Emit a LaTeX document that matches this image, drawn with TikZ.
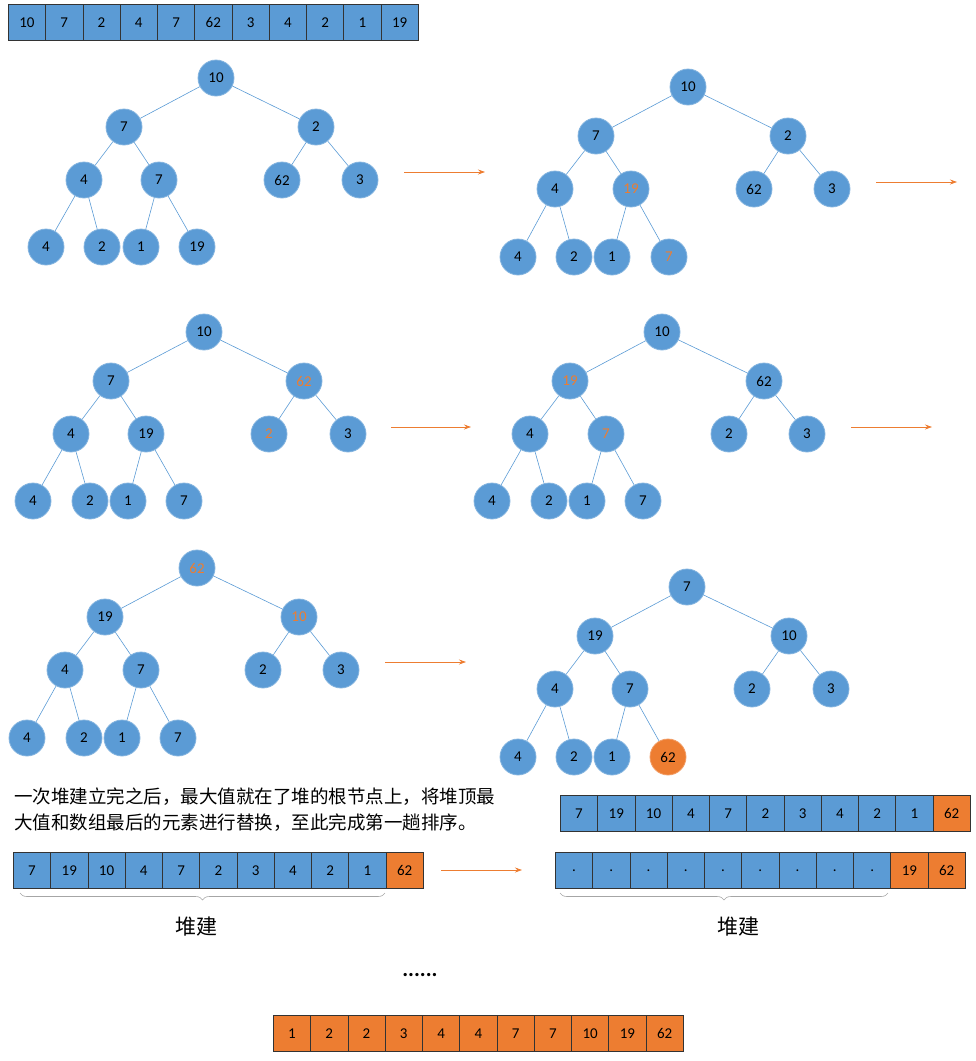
\documentclass[tikz,border=0pt]{standalone}
\usepackage{fontspec}
\setmainfont{Carlito}
\newfontfamily\cjk{Noto Sans CJK SC}
\usetikzlibrary{arrows.meta,decorations.pathreplacing}
\definecolor{cb}{RGB}{91,155,213}
\definecolor{co}{RGB}{237,125,49}
\tikzset{
 c/.style={circle,fill=cb,draw=cb!75!white,line width=0.8pt,minimum size=36pt,inner sep=0pt,font=\fontsize{15}{15}\selectfont},
 n/.style={}, ot/.style={text=co}, of/.style={fill=co,draw=co!75!white}, oc/.style={fill=co},
 e/.style={draw=cb,line width=0.6pt},
 ar/.style={draw=co,line width=0.7pt,-{Stealth[length=7pt,width=5pt]}},
 cell/.style={rectangle,fill=cb,draw=black!80,line width=0.7pt,minimum width=37.27pt,minimum height=36pt,inner sep=0pt,anchor=north west,font=\fontsize{15}{15}\selectfont},
 br/.style={draw=black!35,line width=0.6pt,decorate,decoration={brace,mirror,amplitude=7pt}}
}
\newcommand\mytree[2]{%
 \foreach \x/\y/\l/\s [count=\i] in {#2} {\node[c,\s] (#1\i) at (\x,\y) {\l};}
 \foreach \a/\b in {1/2,1/3,2/4,2/5,3/6,3/7,4/8,4/9,5/10,5/11} {\draw[e] (#1\a) -- (#1\b);}
}
\newcommand\myarr[4]{%
 \foreach \l/\s [count=\i] in {#4} {\node[cell,\s] (#1\i) at ({#2+(\i-1)*37.27},#3) {\l};}
}
\begin{document}
\begin{tikzpicture}[x=1pt,y=-1pt]
\useasboundingbox (0,0) rectangle (976,1061);
\myarr{A}{8}{4}{10/n,7/n,2/n,4/n,7/n,62/n,3/n,4/n,2/n,1/n,19/n}
\mytree{t}{216/78/10/n,124/127/7/n,316/127/2/n,84/180/4/n,159/180/7/n,282/180/62/n,360/180/3/n,46/247/4/n,102/247/2/n,141/247/1/n,197/247/19/n}
\mytree{u}{688/87/10/n,596/136/7/n,788/136/2/n,555/189/4/n,631/189/19/ot,754/189/62/n,832/189/3/n,518/257/4/n,574/257/2/n,612/257/1/n,669/257/7/ot}
\mytree{v}{204/332/10/n,111/381/7/n,304/381/62/ot,71/434/4/n,146/434/19/n,269/434/2/ot,348/434/3/n,33/501/4/n,90/501/2/n,128/501/1/n,184/501/7/n}
\mytree{w}{662/332/10/n,570/381/19/ot,764/381/62/n,530/434/4/n,606/434/7/ot,729/434/2/n,807/434/3/n,492/501/4/n,549/501/2/n,587/501/1/n,643/501/7/n}
\mytree{x}{197/568/62/ot,105/617/19/n,299/617/10/ot,65/670/4/n,141/670/7/n,263/670/2/n,341/670/3/n,27/738/4/n,84/738/2/n,122/738/1/n,178/738/7/n}
\mytree{y}{687/587/7/n,595/636/19/n,789/636/10/n,555/689/4/n,630/689/7/n,752/689/2/n,831/689/3/n,518/757/4/n,574/757/2/n,612/757/1/n,668/757/62/of}
\coordinate (p1) at (404,172); \coordinate (q1) at (485,172); \draw[ar] (p1)--(q1);
\coordinate (p2) at (876,182); \coordinate (q2) at (957,182); \draw[ar] (p2)--(q2);
\coordinate (p3) at (391,427); \coordinate (q3) at (471,427); \draw[ar] (p3)--(q3);
\coordinate (p4) at (851,427); \coordinate (q4) at (932,427); \draw[ar] (p4)--(q4);
\coordinate (p5) at (385,662); \coordinate (q5) at (466,662); \draw[ar] (p5)--(q5);
\coordinate (p6) at (441,870); \coordinate (q6) at (522,870); \draw[ar] (p6)--(q6);
\node[anchor=west,font=\cjk\fontsize{18.5}{26}\selectfont,align=left,inner sep=0pt] (txt) at (14,810) {一次堆建立完之后，最大值就在了堆的根节点上，将堆顶最\\大值和数组最后的元素进行替换，至此完成第一趟排序。};
\myarr{B}{560}{795}{7/n,19/n,10/n,4/n,7/n,2/n,3/n,4/n,2/n,1/n,62/oc}
\myarr{C}{13}{852}{7/n,19/n,10/n,4/n,7/n,2/n,3/n,4/n,2/n,1/n,62/oc}
\myarr{D}{555}{852}{./n,./n,./n,./n,./n,./n,./n,./n,./n,19/oc,62/oc}
\coordinate (b1) at (20,893); \coordinate (b2) at (385,893); \draw[br] (b1)--(b2);
\coordinate (b3) at (560,893); \coordinate (b4) at (888,893); \draw[br] (b3)--(b4);
\node[font=\cjk\fontsize{21}{21}\selectfont] (L1) at (196,927) {堆建};
\node[font=\cjk\fontsize{21}{21}\selectfont] (L2) at (738,927) {堆建};
\node[font=\bfseries\fontsize{22}{22}\selectfont] (dots) at (420,975) {......};
\myarr{E}{273}{1015}{1/oc,2/oc,2/oc,3/oc,4/oc,4/oc,7/oc,7/oc,10/oc,19/oc,62/oc}
\end{tikzpicture}
\end{document}
